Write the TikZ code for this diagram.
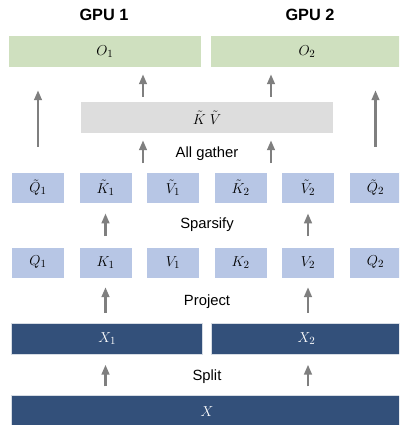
\documentclass[tikz,border=0pt]{standalone}
\usepackage{fontspec}
\setmainfont{Liberation Sans}
\usetikzlibrary{arrows.meta}
\definecolor{ogreen}{HTML}{CFE0BF}
\definecolor{lblue}{HTML}{B7C6E5}
\definecolor{dblue}{HTML}{33507A}
\definecolor{kvgray}{HTML}{DDDDDD}
\definecolor{arrgray}{HTML}{7F7F7F}
\begin{document}
\begin{tikzpicture}[x=1pt,y=-1pt,
  box/.style={rectangle,inner sep=0pt,minimum height=31pt,font=\fontsize{15.5}{17}\selectfont},
  wide/.style={box,minimum width=191pt},
  small/.style={box,fill=lblue,draw=white,line width=0.6pt,minimum width=53pt},
  outbox/.style={wide,fill=ogreen},
  inbox/.style={box,fill=dblue,draw=white!80!dblue,line width=0.6pt,text=white},
  lbl/.style={font=\fontsize{14.8}{17}\selectfont},
  gpu/.style={font=\bfseries\fontsize{16.3}{19}\selectfont},
  up/.style={draw=arrgray,line width=2.8pt,-{Triangle[width=7.5pt,length=10pt]}}
]
\clip (0,0) rectangle (399,425);
\fill[white] (0,0) rectangle (399,425);
% titles
\node[gpu] (gpu1) at (104,15) {GPU 1};
\node[gpu] (gpu2) at (310,15) {GPU 2};
% outputs
\node[outbox,minimum width=191.7pt] (o1) at (104.85,51.5) {$O_1$};
\node[outbox,minimum width=192pt] (o2) at (307,51.5) {$O_2$};
% KV
\node[box,fill=kvgray,minimum width=252pt] (kv) at (207,117.5) {$\tilde{K}\;\tilde{V}$};
% sparse row
\node[small] (tq1) at (38,187.5) {$\tilde{Q}_1$};
\node[small] (tk1) at (105.5,187.5) {$\tilde{K}_1$};
\node[small] (tv1) at (173,187.5) {$\tilde{V}_1$};
\node[small] (tk2) at (240.5,187.5) {$\tilde{K}_2$};
\node[small] (tv2) at (308,187.5) {$\tilde{V}_2$};
\node[small] (tq2) at (375.5,187.5) {$\tilde{Q}_2$};
% projected row
\node[small] (q1) at (38,262.3) {$Q_1$};
\node[small] (k1) at (105.5,262.3) {$K_1$};
\node[small] (v1) at (173,262.3) {$V_1$};
\node[small] (k2) at (240.5,262.3) {$K_2$};
\node[small] (v2) at (308,262.3) {$V_2$};
\node[small] (q2) at (375.5,262.3) {$Q_2$};
% split inputs
\node[inbox,minimum width=191pt] (x1) at (107.2,338.8) {$X_1$};
\node[inbox,minimum width=191pt] (x2) at (306.5,338.8) {$X_2$};
\node[inbox,minimum width=391pt] (x) at (207,411.2) {$X$};
% labels
\node[lbl] (lag) at (207,154) {All gather};
\node[lbl] (lsp) at (207,225) {Sparsify};
\node[lbl] (lpr) at (207,302) {Project};
\node[lbl] (lsl) at (207,377) {Split};
% arrows
\coordinate (a1) at (143,0);
\coordinate (a2) at (271,0);
\draw[up] ([yshift=5pt]kv.north -| a1) -- ([yshift=-7pt]o1.south -| a1);
\draw[up] ([yshift=5pt]kv.north -| a2) -- ([yshift=-7pt]o2.south -| a2);
\draw[up] ([yshift=25pt]tq1.north) -- ([yshift=-23pt]o1.south -| tq1.north);
\draw[up] ([yshift=25pt]tq2.north) -- ([yshift=-23pt]o2.south -| tq2.north);
\draw[up] ([yshift=8.5pt]tk1.north -| a1) -- ([yshift=-7pt]kv.south -| a1);
\draw[up] ([yshift=8.5pt]tk2.north -| a2) -- ([yshift=-7pt]kv.south -| a2);
\draw[up] ([yshift=10.5pt]k1.north) -- ([yshift=-10pt]tk1.south);
\draw[up] ([yshift=10.5pt]v2.north) -- ([yshift=-10pt]tv2.south);
\draw[up] ([yshift=10.5pt]x1.north -| k1.south) -- ([yshift=-9pt]k1.south);
\draw[up] ([yshift=10.5pt]x2.north -| v2.south) -- ([yshift=-9pt]v2.south);
\draw[up] ([yshift=9pt]x.north -| k1.south) -- ([yshift=-10pt]x1.south -| k1.south);
\draw[up] ([yshift=9pt]x.north -| v2.south) -- ([yshift=-10pt]x2.south -| v2.south);
\end{tikzpicture}
\end{document}
